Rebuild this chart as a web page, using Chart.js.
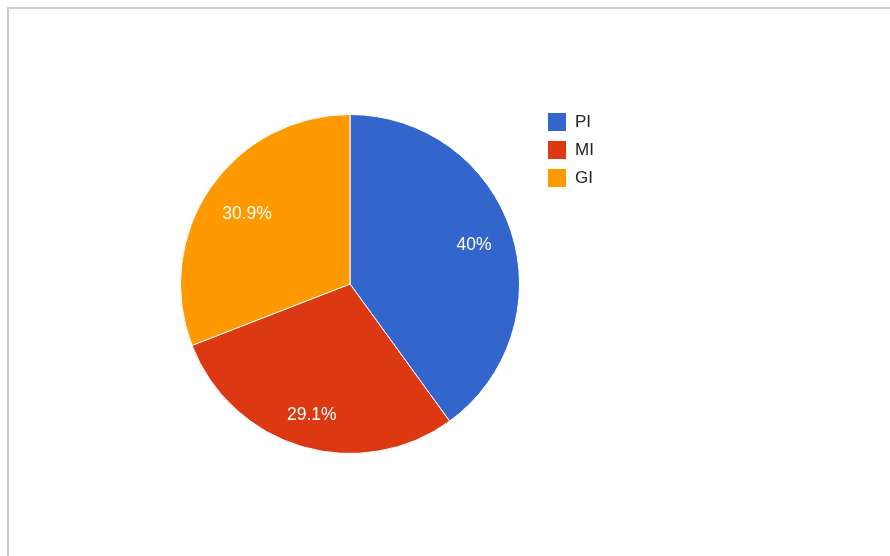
<!DOCTYPE html>
<html>
<head>
<meta charset="utf-8">
<script src="https://cdn.jsdelivr.net/npm/chart.js@4"></script>
<style>
  html, body { margin: 0; padding: 0; background: #fff; width: 890px; height: 556px; overflow: hidden; }
  .frame { position: absolute; left: 7px; top: 7px; width: 900px; height: 600px;
    border-top: 2px solid #cdcdcd; border-left: 2px solid #cdcdcd; }
  #wrap { position: absolute; left: 0; top: 0; width: 890px; height: 556px; }
  .legend { position: absolute; left: 548px; top: 113px; font-family: "Liberation Sans", Arial, sans-serif;
    font-size: 17px; color: #222; }
  .legend .row { height: 28px; display: flex; align-items: flex-start; }
  .legend .sw { width: 18px; height: 18px; margin-right: 9px; }
  .legend .tx { line-height: 18px; }
</style>
</head>
<body>
<div class="frame"></div>
<div id="wrap"><canvas id="pie"></canvas></div>
<div class="legend" id="legend"></div>
<script>
  const labels = ["PI", "MI", "GI"];
  const values = [40, 29.1, 30.9];
  const colors = ["#3366cc", "#dc3912", "#ff9900"];

  document.getElementById("legend").innerHTML = labels.map((l, i) =>
    `<div class="row"><div class="sw" style="background:${colors[i]}"></div><div class="tx">${l}</div></div>`).join("");

  // percent labels, pulled in so the text box stays inside the slice
  const pctLabels = {
    id: "pctLabels",
    afterDatasetsDraw(chart) {
      const ctx = chart.ctx;
      const total = values.reduce((s, v) => s + v, 0);
      ctx.save();
      ctx.fillStyle = "#fff";
      ctx.font = "17.5px 'Liberation Sans', Arial, sans-serif";
      ctx.textAlign = "center";
      ctx.textBaseline = "middle";
      chart.getDatasetMeta(0).data.forEach((arc, i) => {
        const p = arc.getProps(["x", "y", "startAngle", "endAngle", "outerRadius"], true);
        const mid = (p.startAngle + p.endAngle) / 2;
        const txt = +(100 * values[i] / total).toFixed(1) + "%";
        const w = ctx.measureText(txt).width, h = 14;
        const r = p.outerRadius * 0.88 - Math.abs(Math.cos(mid)) * w / 2 - Math.abs(Math.sin(mid)) * h / 2;
        ctx.fillText(txt, p.x + Math.cos(mid) * r, p.y + Math.sin(mid) * r + 1);
      });
      ctx.restore();
    },
  };

  new Chart(document.getElementById("pie"), {
    type: "pie",
    data: {
      labels: labels,
      datasets: [{ data: values, backgroundColor: colors, borderColor: "#fff", borderWidth: 1 }],
    },
    options: {
      responsive: true, maintainAspectRatio: false, animation: false,
      layout: { padding: { left: 180, right: 370, top: 114, bottom: 102 } },
      plugins: { legend: { display: false }, tooltip: { enabled: false } },
    },
    plugins: [pctLabels],
  });
</script>
</body>
</html>
